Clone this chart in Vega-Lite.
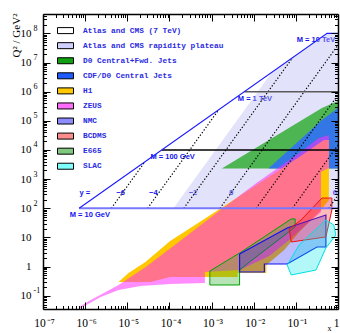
{
  "$schema": "https://vega.github.io/schema/vega-lite/v6.json",
  "width": 295,
  "height": 295,
  "autosize": {"type": "none"},
  "padding": {"left": 43, "top": 14, "right": 2, "bottom": 24},
  "background": "white",
  "config": {
    "view": {"stroke": null},
    "axis": {"grid": false, "tickColor": "black", "domainColor": "black", "labelColor": "black", "titleColor": "black", "tickWidth": 1}
  },
  "resolve": {
    "scale": {"x": "shared", "y": "shared"},
    "axis": {"x": "independent", "y": "independent"}
  },
  "datasets": {
    "poly": [
      {"s": "plat", "i": 1, "x": 1.245e-4, "q": 100},
      {"s": "plat", "i": 2, "x": 0.0266, "q": 4.57e6},
      {"s": "plat", "i": 3, "x": 0.55, "q": 1e8},
      {"s": "plat", "i": 4, "x": 1, "q": 1e8},
      {"s": "plat", "i": 5, "x": 1, "q": 100},

      {"s": "d0", "i": 1, "x": 1.75e-3, "q": 2320},
      {"s": "d0", "i": 2, "x": 0.416, "q": 2.76e5},
      {"s": "d0", "i": 3, "x": 1, "q": 4.8e5},
      {"s": "d0", "i": 4, "x": 1, "q": 2320},

      {"s": "cdf", "i": 1, "x": 0.0223, "q": 2320},
      {"s": "cdf", "i": 2, "x": 0.416, "q": 1.07e5},
      {"s": "cdf", "i": 3, "x": 1, "q": 2.76e5},
      {"s": "cdf", "i": 4, "x": 1, "q": 2320},

      {"s": "h1", "i": 1, "x": 6.21e-6, "q": 0.296},
      {"s": "h1", "i": 2, "x": 1.07e-5, "q": 0.604},
      {"s": "h1", "i": 3, "x": 2.69e-5, "q": 1.44},
      {"s": "h1", "i": 4, "x": 1.04e-4, "q": 7.55},
      {"s": "h1", "i": 5, "x": 4.04e-4, "q": 26.7},
      {"s": "h1", "i": 6, "x": 1.84e-3, "q": 111},
      {"s": "h1", "i": 7, "x": 0.0116, "q": 630},
      {"s": "h1", "i": 8, "x": 0.12, "q": 5750},
      {"s": "h1", "i": 9, "x": 0.463, "q": 2.2e4},
      {"s": "h1", "i": 10, "x": 0.608, "q": 2.2e4},
      {"s": "h1", "i": 11, "x": 0.608, "q": 193},
      {"s": "h1", "i": 12, "x": 0.394, "q": 87.5},
      {"s": "h1", "i": 13, "x": 0.12, "q": 15.4},
      {"s": "h1", "i": 14, "x": 0.0531, "q": 3.71},
      {"s": "h1", "i": 15, "x": 0.02, "q": 1.13},
      {"s": "h1", "i": 16, "x": 0.02, "q": 0.604},
      {"s": "h1", "i": 17, "x": 4.15e-3, "q": 0.604},
      {"s": "h1", "i": 18, "x": 4.15e-3, "q": 0.44},
      {"s": "h1", "i": 19, "x": 1.04e-4, "q": 0.44},
      {"s": "h1", "i": 20, "x": 3.52e-5, "q": 0.296},

      {"s": "zeus", "i": 1, "x": 7.11e-7, "q": 0.0411},
      {"s": "zeus", "i": 2, "x": 1.36e-6, "q": 0.0714},
      {"s": "zeus", "i": 3, "x": 3.07e-6, "q": 0.134},
      {"s": "zeus", "i": 4, "x": 6.21e-6, "q": 0.234},
      {"s": "zeus", "i": 5, "x": 2.69e-5, "q": 0.95},
      {"s": "zeus", "i": 6, "x": 1.04e-4, "q": 4.2},
      {"s": "zeus", "i": 7, "x": 1.84e-3, "q": 100},
      {"s": "zeus", "i": 8, "x": 0.0116, "q": 738},
      {"s": "zeus", "i": 9, "x": 0.12, "q": 7890},
      {"s": "zeus", "i": 10, "x": 0.353, "q": 2.58e4},
      {"s": "zeus", "i": 11, "x": 0.608, "q": 3.27e4},
      {"s": "zeus", "i": 12, "x": 0.608, "q": 2420},
      {"s": "zeus", "i": 13, "x": 0.394, "q": 1760},
      {"s": "zeus", "i": 14, "x": 0.394, "q": 74.6},
      {"s": "zeus", "i": 15, "x": 0.206, "q": 33.9},
      {"s": "zeus", "i": 16, "x": 0.0695, "q": 8.18},
      {"s": "zeus", "i": 17, "x": 0.0235, "q": 2.31},
      {"s": "zeus", "i": 18, "x": 4.62e-3, "q": 0.764},
      {"s": "zeus", "i": 19, "x": 6.94e-4, "q": 0.653},
      {"s": "zeus", "i": 20, "x": 6.94e-4, "q": 0.274},
      {"s": "zeus", "i": 21, "x": 1.04e-4, "q": 0.253},
      {"s": "zeus", "i": 22, "x": 2.05e-5, "q": 0.216},
      {"s": "zeus", "i": 23, "x": 6.21e-6, "q": 0.157},
      {"s": "zeus", "i": 24, "x": 2.34e-6, "q": 0.0906},
      {"s": "zeus", "i": 25, "x": 7.92e-7, "q": 0.038},

      {"s": "e665", "i": 1, "x": 9.1e-4, "q": 0.234},
      {"s": "e665", "i": 2, "x": 9.1e-4, "q": 0.706},
      {"s": "e665", "i": 3, "x": 4.62e-3, "q": 2.92},
      {"s": "e665", "i": 4, "x": 0.0775, "q": 43},
      {"s": "e665", "i": 5, "x": 0.0964, "q": 43},
      {"s": "e665", "i": 6, "x": 0.0964, "q": 22.9},
      {"s": "e665", "i": 7, "x": 7.96e-3, "q": 1.44},
      {"s": "e665", "i": 8, "x": 4.62e-3, "q": 0.764},
      {"s": "e665", "i": 9, "x": 4.62e-3, "q": 0.234},
      {"s": "e665", "i": 10, "x": 9.1e-4, "q": 0.234},

      {"s": "nmc", "i": 1, "x": 4.62e-3, "q": 2.7},
      {"s": "nmc", "i": 2, "x": 0.0624, "q": 21.1},
      {"s": "nmc", "i": 3, "x": 0.516, "q": 58.9},
      {"s": "nmc", "i": 4, "x": 0.516, "q": 4.7},
      {"s": "nmc", "i": 5, "x": 0.317, "q": 4.7},
      {"s": "nmc", "i": 6, "x": 0.0624, "q": 1.23},
      {"s": "nmc", "i": 7, "x": 0.0179, "q": 1.23},
      {"s": "nmc", "i": 8, "x": 0.0179, "q": 0.653},
      {"s": "nmc", "i": 9, "x": 4.62e-3, "q": 0.653},
      {"s": "nmc", "i": 10, "x": 4.62e-3, "q": 2.7},

      {"s": "bcdms", "i": 1, "x": 0.0695, "q": 19.5},
      {"s": "bcdms", "i": 2, "x": 0.133, "q": 39.7},
      {"s": "bcdms", "i": 3, "x": 0.416, "q": 225},
      {"s": "bcdms", "i": 4, "x": 0.715, "q": 225},
      {"s": "bcdms", "i": 5, "x": 0.715, "q": 87.5},
      {"s": "bcdms", "i": 6, "x": 0.516, "q": 10.4},
      {"s": "bcdms", "i": 7, "x": 0.0775, "q": 6.98},
      {"s": "bcdms", "i": 8, "x": 0.0695, "q": 19.5},

      {"s": "slac", "i": 1, "x": 0.0624, "q": 1.13},
      {"s": "slac", "i": 2, "x": 0.0775, "q": 0.515},
      {"s": "slac", "i": 3, "x": 0.301, "q": 0.764},
      {"s": "slac", "i": 4, "x": 0.516, "q": 4.35},
      {"s": "slac", "i": 5, "x": 0.888, "q": 12.1},
      {"s": "slac", "i": 6, "x": 0.796, "q": 26.7},
      {"s": "slac", "i": 7, "x": 0.516, "q": 39.7},
      {"s": "slac", "i": 8, "x": 0.12, "q": 5.51},
      {"s": "slac", "i": 9, "x": 0.0624, "q": 1.13}
    ],
    "lines": [
      {"g": "diag", "i": 1, "x": 7.2e-7, "q": 100},
      {"g": "diag", "i": 2, "x": 0.55, "q": 1e8},
      {"g": "diag", "i": 3, "x": 1, "q": 1e8},
      {"g": "m10", "i": 1, "x": 7.2e-7, "q": 100},
      {"g": "m10", "i": 2, "x": 1, "q": 100},
      {"g": "m100", "i": 1, "x": 6.58e-5, "q": 1e4},
      {"g": "m100", "i": 2, "x": 1, "q": 1e4},
      {"g": "m1000", "i": 1, "x": 6.0e-3, "q": 1e6},
      {"g": "m1000", "i": 2, "x": 1, "q": 1e6},
      {"g": "r1", "i": 1, "x": 4.18e-6, "q": 100},
      {"g": "r1", "i": 2, "x": 2.6e-5, "q": 3870},
      {"g": "r2", "i": 1, "x": 3.03e-5, "q": 100},
      {"g": "r2", "i": 2, "x": 1.48e-3, "q": 2.4e5},
      {"g": "r3", "i": 1, "x": 2.19e-4, "q": 100},
      {"g": "r3", "i": 2, "x": 0.0843, "q": 1.49e7},
      {"g": "r4", "i": 1, "x": 1.58e-3, "q": 100},
      {"g": "r4", "i": 2, "x": 1, "q": 4.0e7},
      {"g": "r5", "i": 1, "x": 0.01143, "q": 100},
      {"g": "r5", "i": 2, "x": 1, "q": 7.66e5},
      {"g": "r6", "i": 1, "x": 0.0826, "q": 100},
      {"g": "r6", "i": 2, "x": 1, "q": 1.47e4},
      {"g": "r7", "i": 1, "x": 0.597, "q": 100},
      {"g": "r7", "i": 2, "x": 1, "q": 281}
    ],
    "labels": [
      {"t": "M = 10 GeV", "x": 1.29e-6, "q": 58.9},
      {"t": "y =", "x": 9.84e-7, "q": 335},
      {"t": "−6", "x": 6.92e-6, "q": 335},
      {"t": "−4", "x": 4.14e-5, "q": 335},
      {"t": "−2", "x": 3.62e-4, "q": 335},
      {"t": "0", "x": 2.95e-3, "q": 335},
      {"t": "2", "x": 0.0189, "q": 335},
      {"t": "4", "x": 0.133, "q": 335},
      {"t": "6", "x": 0.841, "q": 335},
      {"t": "M = 100 GeV", "x": 1.19e-4, "q": 5750},
      {"t": "M = 1 TeV", "x": 0.0107, "q": 5.62e5},
      {"t": "M = 10 TeV", "x": 0.3, "q": 5.94e7}
    ],
    "legend": [
      {"set": "Atlas and CMS (7 TeV)"},
      {"set": "Atlas and CMS rapidity plateau"},
      {"set": "D0 Central+Fwd. Jets"},
      {"set": "CDF/D0 Central Jets"},
      {"set": "H1"},
      {"set": "ZEUS"},
      {"set": "NMC"},
      {"set": "BCDMS"},
      {"set": "E665"},
      {"set": "SLAC"}
    ]
  },
  "layer": [
    {
      "data": {"name": "labels"},
      "mark": {"type": "text", "font": "Liberation Sans", "fontWeight": "bold", "fontSize": 7.5, "color": "#1414f0", "align": "center", "baseline": "middle", "clip": true},
      "encoding": {
        "x": {"field": "x", "type": "quantitative", "scale": {"type": "log", "domain": [1e-7, 1], "nice": false},
          "axis": {"orient": "bottom", "values": [1e-7, 1e-6, 1e-5, 1e-4, 0.001, 0.01, 0.1, 1], "ticks": false, "domain": false, "grid": false,
            "labelExpr": "datum.value >= 1 ? '1' : '10\u200a⁻' + ['⁰','¹','²','³','⁴','⁵','⁶','⁷','⁸','⁹'][round(-log(datum.value) / LN10)]",
            "labelFont": "Liberation Serif", "labelFontSize": 11.5, "labelPadding": 8,
            "labelAlign": {"condition": {"test": "datum.value >= 1", "value": "right"}, "value": "center"},
            "labelOffset": 1, "labelFlush": false, "labelOverlap": false, "labelBound": false,
            "title": "x", "titleFont": "Liberation Serif", "titleFontSize": 8, "titleFontWeight": "normal", "titleX": 286, "titleY": 19.5, "titleAngle": 0, "titleAlign": "center", "titleBaseline": "middle", "zindex": 3}},
        "y": {"field": "q", "type": "quantitative", "scale": {"type": "log", "domain": [0.0351, 4.63e8], "nice": false},
          "axis": {"orient": "left", "values": [0.1, 1, 10, 100, 1000, 1e4, 1e5, 1e6, 1e7, 1e8], "tickSize": -7, "labels": false, "domain": true, "domainWidth": 1.5, "grid": false, "title": null, "zindex": 2}},
        "text": {"field": "t", "type": "nominal"}
      }
    },
    {
      "data": {"name": "poly"},
      "transform": [{"filter": "datum.s == 'plat'"}],
      "mark": {"type": "line", "filled": true, "fill": "#b4b4f2", "fillOpacity": 0.38, "stroke": "#b4b4f2", "strokeWidth": 0, "clip": true},
      "encoding": {
        "x": {"field": "x", "type": "quantitative", "scale": {"type": "log", "domain": [1e-7, 1], "nice": false},
          "axis": {"orient": "bottom", "values": [2e-7,3e-7,4e-7,5e-7,6e-7,7e-7,8e-7,9e-7,2e-6,3e-6,4e-6,5e-6,6e-6,7e-6,8e-6,9e-6,2e-5,3e-5,4e-5,5e-5,6e-5,7e-5,8e-5,9e-5,2e-4,3e-4,4e-4,5e-4,6e-4,7e-4,8e-4,9e-4,0.002,0.003,0.004,0.005,0.006,0.007,0.008,0.009,0.02,0.03,0.04,0.05,0.06,0.07,0.08,0.09,0.2,0.3,0.4,0.5,0.6,0.7,0.8,0.9], "tickSize": -3.5, "labels": false, "domain": false, "grid": false, "title": null, "zindex": 2}},
        "y": {"field": "q", "type": "quantitative", "scale": {"type": "log", "domain": [0.0351, 4.63e8], "nice": false},
          "axis": {"orient": "left", "values": [0.04,0.05,0.06,0.07,0.08,0.09,0.2,0.3,0.4,0.5,0.6,0.7,0.8,0.9,2,3,4,5,6,7,8,9,20,30,40,50,60,70,80,90,200,300,400,500,600,700,800,900,2000,3000,4000,5000,6000,7000,8000,9000,2e4,3e4,4e4,5e4,6e4,7e4,8e4,9e4,2e5,3e5,4e5,5e5,6e5,7e5,8e5,9e5,2e6,3e6,4e6,5e6,6e6,7e6,8e6,9e6,2e7,3e7,4e7,5e7,6e7,7e7,8e7,9e7,2e8,3e8,4e8], "tickSize": -3.5, "labels": false, "domain": false, "grid": false, "title": null, "zindex": 2}},
        "order": {"field": "i", "type": "quantitative"}
      }
    },
    {
      "data": {"name": "poly"},
      "transform": [{"filter": "datum.s == 'd0'"}],
      "mark": {"type": "line", "filled": true, "fill": "#22a822", "fillOpacity": 0.78, "stroke": "#22a822", "strokeWidth": 0, "clip": true},
      "encoding": {
        "x": {"field": "x", "type": "quantitative", "scale": {"type": "log", "domain": [1e-7, 1], "nice": false}, "axis": null},
        "y": {"field": "q", "type": "quantitative", "scale": {"type": "log", "domain": [0.0351, 4.63e8], "nice": false},
          "axis": {"orient": "left", "values": [0.1, 1, 10, 100, 1000, 1e4, 1e5, 1e6, 1e7, 1e8], "ticks": false, "domain": false, "grid": false, "labelExpr": "datum.value == 1 ? '1' : '10'", "labelFont": "Liberation Serif", "labelFontSize": 11, "labelPadding": 12, "labelAlign": "right", "labelBaseline": "middle", "labelFlush": false, "labelOverlap": false, "labelBound": false,
            "title": "Q² / GeV²", "titleFont": "Liberation Serif", "titleFontSize": 11, "titleFontWeight": "normal", "titleX": -27, "titleY": 21, "titleAngle": -90, "titleAlign": "center", "titleBaseline": "middle"}},
        "order": {"field": "i", "type": "quantitative"}
      }
    },
    {
      "data": {"name": "poly"},
      "transform": [{"filter": "datum.s == 'cdf'"}],
      "mark": {"type": "line", "filled": true, "fill": "#2f6bff", "fillOpacity": 0.85, "stroke": "#2f6bff", "strokeWidth": 0, "clip": true},
      "encoding": {
        "x": {"field": "x", "type": "quantitative", "scale": {"type": "log", "domain": [1e-7, 1], "nice": false},
          "axis": {"orient": "bottom", "values": [1e-7, 1e-6, 1e-5, 1e-4, 0.001, 0.01, 0.1, 1], "tickSize": -7, "labels": false, "domain": true, "domainWidth": 1.5, "grid": false, "title": null, "zindex": 2}},
        "y": {"field": "q", "type": "quantitative", "scale": {"type": "log", "domain": [0.0351, 4.63e8], "nice": false},
          "axis": {"orient": "left", "values": [0.1, 100, 1000, 1e4, 1e5, 1e6, 1e7, 1e8], "ticks": false, "domain": false, "grid": false, "labelExpr": "'' + round(log(datum.value) / LN10)", "labelFont": "Liberation Serif", "labelFontSize": 8, "labelPadding": 10, "labelAlign": "left", "labelBaseline": "middle", "labelOffset": -5, "labelFlush": false, "labelOverlap": false, "labelBound": false, "title": null}},
        "order": {"field": "i", "type": "quantitative"}
      }
    },
    {
      "data": {"name": "poly"},
      "transform": [{"filter": "datum.s == 'h1'"}],
      "mark": {"type": "line", "filled": true, "fill": "#ffc800", "fillOpacity": 1, "stroke": "#ffc800", "strokeWidth": 0, "clip": true},
      "encoding": {
        "x": {"field": "x", "type": "quantitative", "scale": {"type": "log", "domain": [1e-7, 1], "nice": false},
          "axis": {"orient": "top", "values": [1e-7, 1e-6, 1e-5, 1e-4, 0.001, 0.01, 0.1, 1], "tickSize": -7, "labels": false, "domain": true, "domainWidth": 1.5, "grid": false, "title": null, "zindex": 2}},
        "y": {"field": "q", "type": "quantitative", "scale": {"type": "log", "domain": [0.0351, 4.63e8], "nice": false},
          "axis": {"orient": "right", "values": [0.1, 1, 10, 100, 1000, 1e4, 1e5, 1e6, 1e7, 1e8], "tickSize": -7, "labels": false, "domain": true, "domainWidth": 1.5, "grid": false, "title": null, "zindex": 2}},
        "order": {"field": "i", "type": "quantitative"}
      }
    },
    {
      "data": {"name": "poly"},
      "transform": [{"filter": "datum.s == 'zeus'"}],
      "mark": {"type": "line", "filled": true, "fill": "#ff30ff", "fillOpacity": 0.55, "stroke": "#ff30ff", "strokeWidth": 0, "clip": true},
      "encoding": {
        "x": {"field": "x", "type": "quantitative", "scale": {"type": "log", "domain": [1e-7, 1], "nice": false},
          "axis": {"orient": "top", "values": [2e-7,3e-7,4e-7,5e-7,6e-7,7e-7,8e-7,9e-7,2e-6,3e-6,4e-6,5e-6,6e-6,7e-6,8e-6,9e-6,2e-5,3e-5,4e-5,5e-5,6e-5,7e-5,8e-5,9e-5,2e-4,3e-4,4e-4,5e-4,6e-4,7e-4,8e-4,9e-4,0.002,0.003,0.004,0.005,0.006,0.007,0.008,0.009,0.02,0.03,0.04,0.05,0.06,0.07,0.08,0.09,0.2,0.3,0.4,0.5,0.6,0.7,0.8,0.9], "tickSize": -3.5, "labels": false, "domain": false, "grid": false, "title": null, "zindex": 2}},
        "y": {"field": "q", "type": "quantitative", "scale": {"type": "log", "domain": [0.0351, 4.63e8], "nice": false},
          "axis": {"orient": "right", "values": [0.04,0.05,0.06,0.07,0.08,0.09,0.2,0.3,0.4,0.5,0.6,0.7,0.8,0.9,2,3,4,5,6,7,8,9,20,30,40,50,60,70,80,90,200,300,400,500,600,700,800,900,2000,3000,4000,5000,6000,7000,8000,9000,2e4,3e4,4e4,5e4,6e4,7e4,8e4,9e4,2e5,3e5,4e5,5e5,6e5,7e5,8e5,9e5,2e6,3e6,4e6,5e6,6e6,7e6,8e6,9e6,2e7,3e7,4e7,5e7,6e7,7e7,8e7,9e7,2e8,3e8,4e8], "tickSize": -3.5, "labels": false, "domain": false, "grid": false, "title": null, "zindex": 2}},
        "order": {"field": "i", "type": "quantitative"}
      }
    },
    {
      "data": {"name": "poly"},
      "transform": [{"filter": "datum.s == 'e665'"}],
      "mark": {"type": "line", "filled": true, "fill": "#30b030", "fillOpacity": 0.35, "stroke": "#00a000", "strokeWidth": 1, "clip": true},
      "encoding": {
        "x": {"field": "x", "type": "quantitative", "axis": null},
        "y": {"field": "q", "type": "quantitative", "axis": null},
        "order": {"field": "i", "type": "quantitative"}
      }
    },
    {
      "data": {"name": "poly"},
      "transform": [{"filter": "datum.s == 'nmc'"}],
      "mark": {"type": "line", "filled": true, "fill": "#2020ff", "fillOpacity": 0.3, "stroke": "#1010ee", "strokeWidth": 1.2, "clip": true},
      "encoding": {
        "x": {"field": "x", "type": "quantitative", "axis": null},
        "y": {"field": "q", "type": "quantitative", "axis": null},
        "order": {"field": "i", "type": "quantitative"}
      }
    },
    {
      "data": {"name": "poly"},
      "transform": [{"filter": "datum.s == 'bcdms'"}],
      "mark": {"type": "line", "filled": true, "fill": "#ff2020", "fillOpacity": 0.3, "stroke": "#ee1010", "strokeWidth": 1, "clip": true},
      "encoding": {
        "x": {"field": "x", "type": "quantitative", "axis": null},
        "y": {"field": "q", "type": "quantitative", "axis": null},
        "order": {"field": "i", "type": "quantitative"}
      }
    },
    {
      "data": {"name": "poly"},
      "transform": [{"filter": "datum.s == 'slac'"}],
      "mark": {"type": "line", "filled": true, "fill": "#00e8e8", "fillOpacity": 0.3, "stroke": "#00e0e0", "strokeWidth": 1, "clip": true},
      "encoding": {
        "x": {"field": "x", "type": "quantitative", "axis": null},
        "y": {"field": "q", "type": "quantitative", "axis": null},
        "order": {"field": "i", "type": "quantitative"}
      }
    },
    {
      "data": {"name": "lines"},
      "transform": [{"filter": "indexof(datum.g, 'r') == 0"}],
      "mark": {"type": "line", "stroke": "black", "strokeWidth": 1.2, "strokeDash": [1.3, 1.9], "clip": true},
      "encoding": {
        "x": {"field": "x", "type": "quantitative", "axis": null},
        "y": {"field": "q", "type": "quantitative", "axis": null},
        "detail": {"field": "g"},
        "order": {"field": "i", "type": "quantitative"}
      }
    },
    {
      "data": {"name": "lines"},
      "transform": [{"filter": "datum.g == 'm1000'"}],
      "mark": {"type": "line", "stroke": "#5a5a5a", "strokeWidth": 1.5, "clip": true},
      "encoding": {
        "x": {"field": "x", "type": "quantitative", "axis": null},
        "y": {"field": "q", "type": "quantitative", "axis": null},
        "order": {"field": "i", "type": "quantitative"}
      }
    },
    {
      "data": {"name": "lines"},
      "transform": [{"filter": "datum.g == 'm100'"}],
      "mark": {"type": "line", "stroke": "black", "strokeWidth": 1.3, "clip": true},
      "encoding": {
        "x": {"field": "x", "type": "quantitative", "axis": null},
        "y": {"field": "q", "type": "quantitative", "axis": null},
        "order": {"field": "i", "type": "quantitative"}
      }
    },
    {
      "data": {"name": "lines"},
      "transform": [{"filter": "datum.g == 'm10'"}],
      "mark": {"type": "line", "stroke": "#7878ff", "strokeWidth": 2, "clip": true},
      "encoding": {
        "x": {"field": "x", "type": "quantitative", "axis": null},
        "y": {"field": "q", "type": "quantitative", "axis": null},
        "order": {"field": "i", "type": "quantitative"}
      }
    },
    {
      "data": {"name": "lines"},
      "transform": [{"filter": "datum.g == 'diag'"}],
      "mark": {"type": "line", "stroke": "#1a1aff", "strokeWidth": 1.1, "clip": true},
      "encoding": {
        "x": {"field": "x", "type": "quantitative", "axis": null},
        "y": {"field": "q", "type": "quantitative", "axis": null},
        "order": {"field": "i", "type": "quantitative"}
      }
    },
    {
      "data": {"name": "legend"},
      "mark": {"type": "point", "shape": "M-2,-0.75H2V0.75H-2Z", "filled": true, "opacity": 0},
      "encoding": {
        "color": {"field": "set", "type": "nominal",
          "scale": {"domain": ["Atlas and CMS (7 TeV)", "Atlas and CMS rapidity plateau", "D0 Central+Fwd. Jets", "CDF/D0 Central Jets", "H1", "ZEUS", "NMC", "BCDMS", "E665", "SLAC"],
                    "range": ["#ffffff", "#d0d0ff", "#11a011", "#1e5cff", "#ffc800", "#ff6cff", "#8c8cff", "#ff8c8c", "#80c880", "#80ffff"]},
          "legend": {"orient": "none", "legendX": 18, "legendY": 12.1, "direction": "vertical", "title": null, "padding": 0,
            "symbolType": "M-2,-0.75H2V0.75H-2Z", "symbolSize": 64, "symbolStrokeColor": "black", "symbolStrokeWidth": 1, "symbolOpacity": 1,
            "labelFont": "Liberation Mono", "labelFontWeight": "bold", "labelFontSize": 7.8, "labelColor": "#2a2ae2", "labelOffset": 13, "labelLimit": 0,
            "rowPadding": 4.07}}
      }
    }
  ]
}
